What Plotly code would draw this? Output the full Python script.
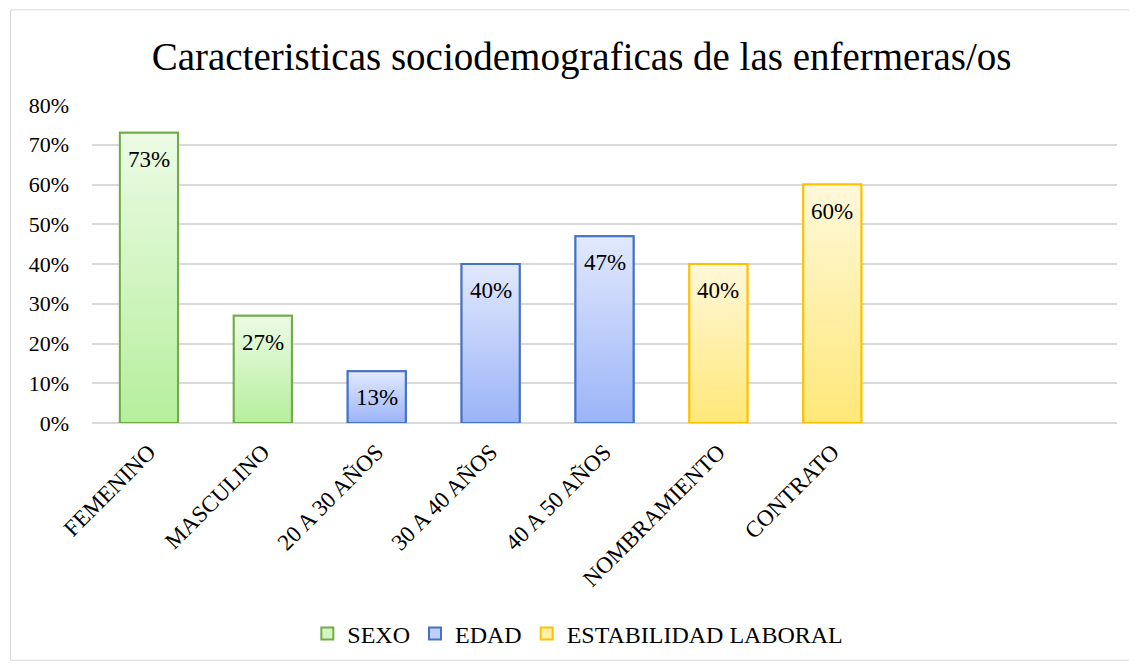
import plotly.graph_objects as go

categories = ["FEMENINO", "MASCULINO", "20 A 30 AÑOS", "30 A 40 AÑOS", "40 A 50 AÑOS", "NOMBRAMIENTO", "CONTRATO", "", ""]
groups = ["SEXO", "EDAD", "ESTABILIDAD LABORAL"]
group_idx = [[0, 1], [2, 3, 4], [5, 6]]
values = [0.73, 0.27, 0.13, 0.40, 0.47, 0.40, 0.60]
labels = ["73%", "27%", "13%", "40%", "47%", "40%", "60%"]

outline = ["#70ad47", "#4472c4", "#ffc000"]
top_col = ["#ecfbe5", "#e2e9fd", "#fff8da"]
bot_col = ["#b5ef9c", "#9bb4f8", "#ffe878"]
mid_col = ["#d2f5c2", "#c0d0fa", "#fff0aa"]

W = 0.51
FONT = "Liberation Serif, Times New Roman, serif"

fig = go.Figure()
for g, name in enumerate(groups):
    idx = group_idx[g]
    fig.add_trace(go.Bar(
        x=idx, y=[values[i] for i in idx], name=name, width=W,
        marker=dict(color=mid_col[g], line=dict(color=outline[g], width=2)),
        hoverinfo="skip",
    ))
for g, name in enumerate(groups):
    for i in group_idx[g]:
        v = values[i]
        fig.add_trace(go.Scatter(
            x=[i - W / 2, i + W / 2, i + W / 2, i - W / 2, i - W / 2],
            y=[0, 0, v, v, 0],
            mode="lines", fill="toself",
            fillgradient=dict(type="vertical", colorscale=[[0, bot_col[g]], [1, top_col[g]]]),
            line=dict(color=outline[g], width=2),
            showlegend=False, hoverinfo="skip",
        ))

for i, v in enumerate(values):
    fig.add_annotation(x=i, y=v, text=labels[i], showarrow=False,
                       yanchor="top", yshift=-12,
                       font=dict(family=FONT, size=23, color="#000000"))

# page offset of 8px (body margin) compensated: figure is 1129x659
fig.add_shape(type="rect", xref="paper", yref="paper",
              x0=-0.0795, x1=1.0156, y0=-0.746, y1=1.299,
              line=dict(color="#d9d9d9", width=1), fillcolor="rgba(0,0,0,0)", layer="below")

fig.update_layout(
    width=1129, height=659,
    margin=dict(l=84, r=20, t=97, b=243),
    paper_bgcolor="white", plot_bgcolor="white",
    barmode="overlay",
    title=dict(text="Caracteristicas sociodemograficas de las enfermeras/os",
               x=0.508, xanchor="center", y=0.926, yanchor="middle",
               font=dict(family=FONT, size=39, color="#000000")),
    font=dict(family=FONT, size=22, color="#000000"),
    legend=dict(orientation="h", x=0.474, xanchor="center", y=-0.658, yanchor="middle",
                font=dict(family=FONT, size=24, color="#000000"),
                itemwidth=30, traceorder="normal"),
    showlegend=True,
)
fig.update_xaxes(
    range=[-0.5, 8.5], tickmode="array", tickvals=list(range(len(categories))),
    ticktext=categories, tickangle=-45, showgrid=False, zeroline=False,
    showline=False, ticks="", ticklabelstandoff=10,
    tickfont=dict(family=FONT, size=23, color="#000000"),
)
fig.update_yaxes(
    range=[0, 0.8], dtick=0.1, tickformat=".0%", showgrid=True, gridcolor="#d9d9d9",
    gridwidth=1.5, zeroline=True, zerolinecolor="#d9d9d9", zerolinewidth=1.5,
    showline=False, ticks="", ticklabelstandoff=22,
    tickfont=dict(family=FONT, size=22, color="#000000"),
)

fig.write_html("out.html")
